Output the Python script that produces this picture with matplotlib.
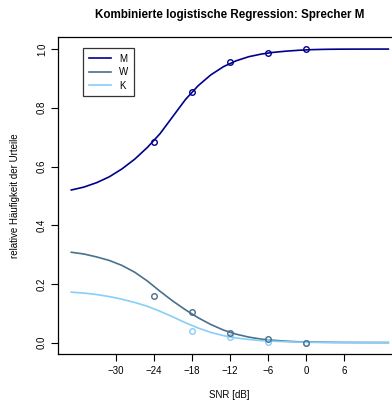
import matplotlib
matplotlib.use("Agg")
import matplotlib.pyplot as plt
import numpy as np

plt.rcParams["font.family"] = ["Liberation Sans", "DejaVu Sans"]

# fitted curves, read every 2 dB
snr_fit = [-37, -35, -33, -31, -29, -27, -25, -23, -21, -19, -17, -15, -13,
           -11, -9, -7, -5, -3, -1, 1, 3, 5, 7, 9, 11, 13]
fit_m = [0.520, 0.530, 0.545, 0.565, 0.592, 0.625, 0.665, 0.712, 0.770, 0.828,
         0.875, 0.912, 0.940, 0.960, 0.974, 0.983, 0.989, 0.993, 0.996, 0.998,
         0.999, 0.9995, 0.9997, 0.9998, 0.9999, 0.9999]
fit_w = [0.308, 0.302, 0.292, 0.280, 0.263, 0.240, 0.210, 0.175, 0.142, 0.112,
         0.085, 0.062, 0.043, 0.029, 0.019, 0.012, 0.008, 0.005, 0.003, 0.002,
         0.0015, 0.001, 0.0008, 0.0006, 0.0005, 0.0005]
fit_k = [0.172, 0.169, 0.164, 0.157, 0.148, 0.137, 0.124, 0.107, 0.088, 0.068,
         0.050, 0.035, 0.024, 0.016, 0.011, 0.007, 0.005, 0.003, 0.002, 0.001,
         0.0008, 0.0006, 0.0005, 0.0004, 0.0003, 0.0003]

# observed relative frequencies
snr_obs = [-24, -18, -12, -6, 0]
obs_m = [0.685, 0.855, 0.955, 0.988, 1.0]
obs_w = [0.158, 0.105, 0.032, 0.012, 0.0]
snr_obs_k = [-18, -12, -6, 0]
obs_k = [0.039, 0.018, 0.003, 0.0]

col_m = "#00008B"
col_w = "#4A708B"
col_k = "#87CEFA"

fig = plt.figure(figsize=(3.92, 4.08), dpi=100)
ax = fig.add_axes([58/392, 54/408, 343/392, 317/408])

ax.plot(snr_fit, fit_m, color=col_m, lw=1.2, label="M")
ax.plot(snr_fit, fit_w, color=col_w, lw=1.2, label="W")
ax.plot(snr_fit, fit_k, color=col_k, lw=1.2, label="K")
ms = dict(marker="o", ls="none", mfc="none", ms=4, mew=1.0)
ax.plot(snr_obs_k, obs_k, color=col_k, **ms)
ax.plot(snr_obs, obs_w, color=col_w, **ms)
ax.plot(snr_obs, obs_m, color=col_m, **ms)

ax.set_xlim(-39.1, 15)
ax.set_ylim(-0.0385, 1.041)
ax.set_xticks([-30, -24, -18, -12, -6, 0, 6])
ax.set_yticks([0.0, 0.2, 0.4, 0.6, 0.8, 1.0])
ax.set_yticklabels(["0.0", "0.2", "0.4", "0.6", "0.8", "1.0"], rotation=90, va="center")
ax.tick_params(axis="both", labelsize=7, length=5, width=0.8, direction="out")
ax.tick_params(axis="x", pad=4)
ax.tick_params(axis="y", pad=3)
for s in ax.spines.values():
    s.set_linewidth(0.9)

ax.set_xlabel("SNR [dB]", fontsize=7, labelpad=10)
ax.set_ylabel("relative Häufigkeit der Urteile", fontsize=7, labelpad=12)
ax.set_title("Kombinierte logistische Regression: Sprecher M", fontsize=8.4,
             fontweight="bold", pad=14)

leg = ax.legend(loc="upper left", bbox_to_anchor=(25/343, 1 - 11/317), fontsize=7,
                frameon=True, fancybox=False, edgecolor="black", handlelength=2.3,
                handletextpad=0.8, labelspacing=0.35, borderpad=0.6, borderaxespad=0)
leg.get_frame().set_linewidth(0.9)

fig.savefig("out.png", dpi=100)
